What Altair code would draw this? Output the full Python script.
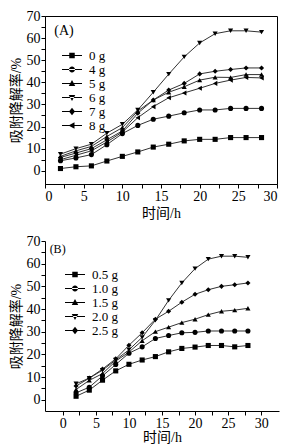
import altair as alt
import pandas as pd

hours = [2, 4, 6, 8, 10, 12, 14, 16, 18, 20, 22, 24, 26, 28]

# Panel A: dosage series
a_names = ["0 g", "4 g", "5 g", "6 g", "7 g", "8 g"]
a_0g = [1.0, 1.8, 2.2, 4.4, 6.5, 8.5, 10.7, 12.0, 13.5, 14.2, 14.2, 15.0, 15.0, 15.0]
a_4g = [4.5, 5.8, 7.3, 11.8, 16.8, 20.5, 23.3, 24.7, 26.2, 27.5, 27.5, 28.2, 28.2, 28.2]
a_5g = [6.5, 9.0, 11.0, 15.5, 19.5, 27.0, 32.0, 35.5, 38.0, 41.0, 42.3, 42.2, 43.5, 43.5]
a_6g = [7.5, 10.0, 12.0, 17.0, 21.0, 27.5, 35.5, 43.7, 51.5, 57.8, 62.0, 63.3, 63.3, 62.7]
a_7g = [6.0, 8.0, 10.0, 14.0, 18.0, 26.0, 32.0, 36.5, 39.5, 43.8, 45.0, 45.8, 46.5, 46.5]
a_8g = [5.0, 7.0, 9.0, 13.0, 17.5, 24.0, 29.0, 33.0, 35.2, 37.3, 39.5, 41.0, 42.2, 42.0]

# Panel B: dosage series
b_names = ["0.5 g", "1.0 g", "1.5 g", "2.0 g", "2.5 g"]
b_05g = [1.5, 4.2, 8.6, 12.7, 15.6, 17.5, 19.0, 21.1, 22.6, 23.2, 23.9, 23.9, 23.3, 23.9]
b_10g = [3.0, 5.5, 10.5, 15.5, 20.5, 23.3, 27.0, 28.3, 29.5, 29.7, 30.3, 30.3, 30.3, 30.3]
b_15g = [4.5, 8.5, 11.5, 17.0, 21.0, 26.0, 30.0, 32.0, 34.0, 35.5, 37.5, 39.0, 39.5, 40.3]
b_20g = [7.0, 9.5, 13.0, 17.5, 22.0, 27.5, 35.0, 43.8, 51.5, 57.8, 62.0, 63.3, 63.3, 62.8]
b_25g = [6.0, 9.5, 13.5, 18.0, 24.0, 29.5, 35.5, 39.0, 43.0, 46.5, 48.5, 50.0, 50.7, 51.5]

y_ticks = [0, 5, 10, 15, 20, 25, 30, 35, 40, 45, 50, 55, 60, 65, 70]
x_ticks = [0, 2.5, 5, 7.5, 10, 12.5, 15, 17.5, 20, 22.5, 25, 27.5, 30]

std_shapes = ["square", "circle", "triangle-up", "triangle-down", "diamond", "triangle-left"]
bar = "M-4,-0.2H4V0.2H-4Z"
leg_shapes = [
    bar + "M-1.1,-1.1H1.1V1.1H-1.1Z",
    bar + "M-1.2,0A1.2,1.2 0 1,0 1.2,0A1.2,1.2 0 1,0 -1.2,0Z",
    bar + "M0,-1.4L1.3,1H-1.3Z",
    bar + "M0,1.4L1.3,-1H-1.3Z",
    bar + "M0,-1.5L1.2,0L0,1.5L-1.2,0Z",
    bar + "M-1.4,0L1,-1.3V1.3Z",
]

SERIF = "Liberation Serif"
TITLEF = "'Liberation Serif', 'Noto Sans CJK SC'"


def long_df(names, series):
    rows = []
    for n, vals in zip(names, series):
        for t, v in zip(hours, vals):
            rows.append({"t": t, "v": v, "series": n})
    return pd.DataFrame(rows)


def panel(df, names, xdom, ydom, tag, tagpos, leg_x, leg_y, w, h, tagsize, xtp):
    k = len(names)
    xaxis = alt.Axis(values=x_ticks, title="时间/h", titlePadding=xtp,
                     labelExpr="datum.value % 5 == 0 ? datum.label : ''",
                     labelOverlap=False)
    yaxis = alt.Axis(values=y_ticks, title="吸附降解率/%",
                     labelExpr="datum.value % 10 == 0 ? datum.label : ''",
                     labelOverlap=False, titlePadding=3)
    xs = alt.Scale(domain=xdom, nice=False, zero=False)
    ys = alt.Scale(domain=ydom, nice=False, zero=False)

    def X():
        return alt.X("t:Q", scale=xs, axis=xaxis)

    def Y():
        return alt.Y("v:Q", scale=ys, axis=yaxis)

    base = alt.Chart(df)
    line = base.mark_line(color="#333333", strokeWidth=1).encode(
        x=X(), y=Y(), detail="series:N")
    pts = base.mark_point(filled=True, color="black", size=26, opacity=1).encode(
        x=X(), y=Y(),
        shape=alt.Shape("series:N", scale=alt.Scale(domain=names, range=std_shapes[:k]),
                        legend=None))
    leg = base.transform_filter("datum.t < 0").transform_calculate(
        sl="datum.series").mark_point(filled=True, color="black", opacity=1).encode(
        x=X(), y=Y(),
        shape=alt.Shape("sl:N", scale=alt.Scale(domain=names, range=leg_shapes[:k]),
                        legend=alt.Legend(orient="none", legendX=leg_x, legendY=leg_y,
                                          direction="vertical", title=None,
                                          symbolSize=25, symbolFillColor="black",
                                          symbolStrokeWidth=0, symbolOpacity=1,
                                          labelFont=SERIF, labelFontSize=13,
                                          labelColor="black", labelOffset=10.5,
                                          rowPadding=0, padding=0)))
    tdf = pd.DataFrame({"t": [tagpos[0]], "v": [tagpos[1]], "label": [tag]})
    txt = alt.Chart(tdf).mark_text(align="left", baseline="middle", font=SERIF,
                                   fontSize=tagsize, color="black").encode(
        x=X(), y=Y(), text="label:N")
    return alt.layer(line, pts, leg, txt).resolve_scale(shape="independent").properties(
        width=w, height=h)


dfa = long_df(a_names, [a_0g, a_4g, a_5g, a_6g, a_7g, a_8g])
dfb = long_df(b_names, [b_05g, b_10g, b_15g, b_20g, b_25g])

pa = panel(dfa, a_names, [0, 30], [-6, 70], "(A)", [1.2, 63.0], 20.5, 33.0, 232, 168, 14, 3)
pa = pa.properties(view=alt.ViewBackground(stroke="black", strokeWidth=1))
pb = panel(dfb, b_names, [-2.7, 32.7], [-5, 70], "(B)", [-2.0, 66.5], 23.5, 27.0, 234, 170, 12, 0)

chart = alt.vconcat(pa, pb, spacing=12).properties(
    padding={"left": 0, "top": 0, "right": 0, "bottom": 0}
).configure_view(stroke="transparent").configure_axis(
    domainColor="black", tickColor="black", tickSize=4, grid=False,
    labelFont=SERIF, labelFontSize=14, labelColor="black", labelPadding=1,
    titleFont=TITLEF, titleFontSize=14, titleFontWeight="normal", titleColor="black",
    domainWidth=1, tickWidth=1
)

chart.save("out.html", embed_options={"renderer": "svg", "actions": False})
